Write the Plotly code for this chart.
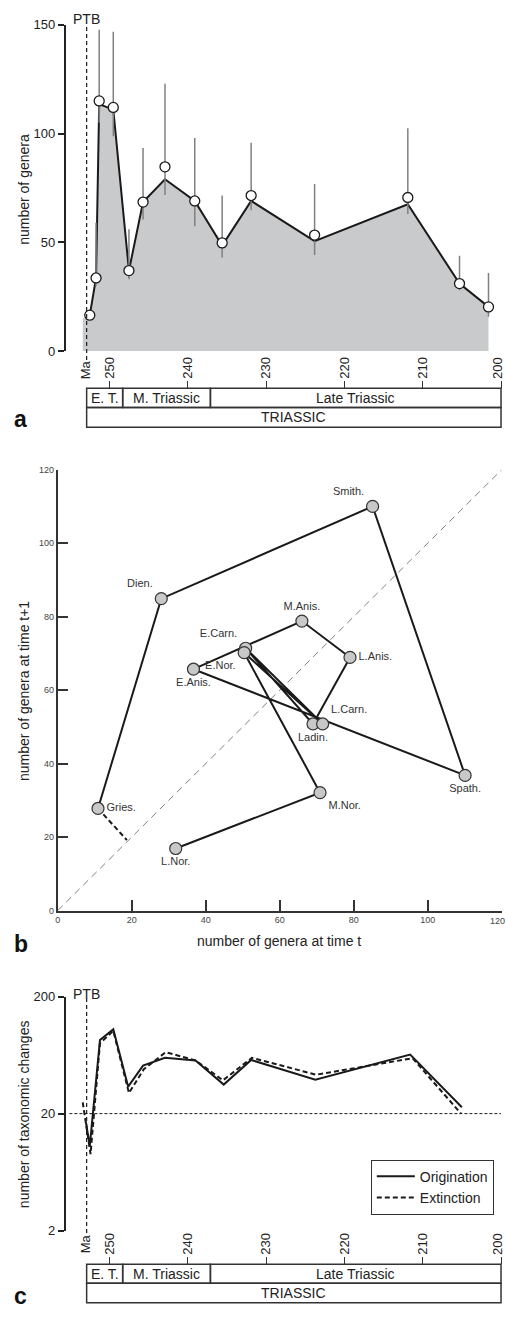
import math
import plotly.graph_objects as go

W, H = 506, 1319
FONT = "Liberation Sans, Arial, sans-serif"


def px(x):
    return x / W


def py(y):
    return 1 - y / H


# ---------------- DATA ----------------
# Panel a: genus richness through the Triassic
a_line_ma = [252.5, 251.7, 251.3, 249.5, 247.5, 245.7, 242.9, 239.1, 235.6, 231.9, 223.8, 211.9, 205.3, 201.6]
a_line_n = [16.5, 33.6, 113.5, 111, 37, 68.5, 79, 69, 48.5, 69, 50.5, 67.5, 31, 20.3]
a_fill_start_ma = 253.4
a_fill_start_n = 15
a_pt_ma = [252.5, 251.7, 251.3, 249.5, 247.5, 245.7, 242.9, 239.1, 235.6, 231.9, 223.8, 211.9, 205.3, 201.6]
a_pt_n = [16.5, 33.6, 115, 112, 37, 68.5, 84.7, 69, 49.7, 71.5, 53.3, 70.6, 31, 20.3]
a_hi = [16.5, 59, 147.7, 146.8, 56, 93.3, 122.9, 97.9, 71.5, 95.8, 76.8, 102.4, 43.8, 35.9]
a_lo = [16.5, 30, 105, 98.8, 33, 60.5, 71.8, 57.4, 43, 64.7, 44.2, 63, 28, 15.8]

# Time scale
time_ticks = [250, 240, 230, 220, 210, 200]
time_tick_text = ["250", "240", "230", "220", "210", "200"]
PTB_MA = 252.9
MA_LABEL_AT = 253.05
epochs = ["E. T.", "M. Triassic", "Late Triassic"]
epoch_bounds = [252.9, 248.3, 237.1, 200.0]
period_name = "TRIASSIC"

# Panel b: phase plot (genera at t vs t+1)
b_stage = ["Gries.", "Dien.", "Smith.", "Spath.", "E.Anis.", "M.Anis.", "L.Anis.",
           "Ladin.", "E.Carn.", "L.Carn.", "E.Nor.", "M.Nor.", "L.Nor."]
b_nt = [10.9, 28.0, 85.1, 110.1, 36.7, 66.0, 79.0, 69.0, 50.8, 71.6, 50.4, 70.9, 31.9]
b_nt1 = [27.8, 84.9, 110.0, 36.8, 65.7, 78.8, 68.9, 50.8, 71.4, 50.8, 70.2, 32.1, 16.9]
b_pre_x = [18.7]
b_pre_y = [19.2]
b_ticks = [0, 20, 40, 60, 80, 100, 120]

# Panel c: origination / extinction
c_orig_ma = [253.0, 252.5, 251.2, 249.5, 247.6, 245.7, 242.9, 239.0, 235.4, 231.9, 223.7, 211.6, 205.0]
c_orig = [17, 10.6, 85, 105, 34, 51.5, 60, 57, 35.4, 57.5, 39, 64, 22.7]
c_ext_ma = [253.4, 252.4, 251.2, 249.5, 247.5, 245.6, 242.8, 239.0, 235.5, 231.8, 223.6, 211.3, 205.1]
c_ext = [25, 9, 80, 102, 30, 48, 67, 57, 38.5, 60, 43, 59.5, 20]
c_ref_ma = [255.1, 200.0]
c_ref_val = [20, 20]
c_ticks = [2, 20, 200]

# ---------------- FIGURE ----------------
fig = go.Figure()

# Panel a
fig.add_trace(go.Scatter(
    x=[a_fill_start_ma] + a_line_ma, y=[a_fill_start_n] + a_line_n,
    mode="lines", fill="tozeroy", fillcolor="#c9cacc", line=dict(width=0),
    xaxis="x", yaxis="y", showlegend=False, hoverinfo="skip"))
fig.add_trace(go.Scatter(
    x=a_line_ma, y=a_line_n, mode="lines", line=dict(color="#1a1a1a", width=2),
    xaxis="x", yaxis="y", showlegend=False))
fig.add_trace(go.Scatter(
    x=a_pt_ma, y=a_pt_n, mode="markers",
    marker=dict(size=10, color="white", line=dict(color="#1a1a1a", width=1.3)),
    error_y=dict(type="data", symmetric=False,
                 array=[h - n for h, n in zip(a_hi, a_pt_n)],
                 arrayminus=[n - l for n, l in zip(a_pt_n, a_lo)],
                 color="#808080", thickness=1.5, width=0),
    xaxis="x", yaxis="y", showlegend=False))

# Panel b
fig.add_trace(go.Scatter(
    x=[b_ticks[0], b_ticks[-1]], y=[b_ticks[0], b_ticks[-1]], mode="lines",
    line=dict(color="#808080", width=1, dash="7px,5px"),
    xaxis="x2", yaxis="y2", showlegend=False))
fig.add_trace(go.Scatter(
    x=[b_nt[0]] + b_pre_x, y=[b_nt1[0]] + b_pre_y, mode="lines",
    line=dict(color="#1a1a1a", width=2, dash="5px,3px"),
    xaxis="x2", yaxis="y2", showlegend=False))
b_textpos = ["middle right", "top left", "top left", "bottom center", "bottom center",
             "top center", "middle right", "bottom center", "top left", "top right",
             "bottom left", "bottom right", "bottom center"]
fig.add_trace(go.Scatter(
    x=b_nt, y=b_nt1, mode="lines+markers+text", text=b_stage, textposition=b_textpos,
    textfont=dict(size=11, color="#333"),
    line=dict(color="#1a1a1a", width=2),
    marker=dict(size=12, color="#c8c8c8", line=dict(color="#333", width=1.2)),
    cliponaxis=False,
    xaxis="x2", yaxis="y2", showlegend=False))

# Panel c
fig.add_trace(go.Scatter(
    x=c_ref_ma, y=c_ref_val, mode="lines",
    line=dict(color="#1a1a1a", width=1, dash="3px,2px"),
    xaxis="x3", yaxis="y3", showlegend=False))
fig.add_trace(go.Scatter(
    x=c_orig_ma, y=c_orig, mode="lines", name="Origination",
    line=dict(color="#1a1a1a", width=2),
    xaxis="x3", yaxis="y3"))
fig.add_trace(go.Scatter(
    x=c_ext_ma, y=c_ext, mode="lines", name="Extinction",
    line=dict(color="#1a1a1a", width=2, dash="5px,3px"),
    xaxis="x3", yaxis="y3"))

# ---------------- AXES ----------------
x_left_ma = 250 + (107 - 63) / 7.88
x_right_ma = 250 - (505 - 107) / 7.88
time_axis = dict(
    domain=[px(63), px(505)], range=[x_left_ma, x_right_ma], anchor="free", side="top",
    ticks="outside", ticklen=7, tickwidth=1.2, tickcolor="#333", tickangle=-90,
    tickvals=time_ticks, ticktext=time_tick_text[:-1] + [""],
    tickfont=dict(size=13, color="#222"),
    showline=False, showgrid=False, zeroline=False)

fig.update_layout(
    xaxis=dict(time_axis, position=py(385.7)),
    yaxis=dict(domain=[py(348), py(18)], range=[0, 150], anchor="x",
               ticks="outside", ticklen=6, tickwidth=1.5, tickcolor="#222",
               showline=True, linewidth=1.5, linecolor="#222",
               tickvals=[0, 50, 100, 150], tickfont=dict(size=13, color="#222"),
               showgrid=False, zeroline=False),
    xaxis2=dict(domain=[px(55), px(501.7)], range=[0, 120], anchor="y2",
                ticks="inside", ticklen=11, tickwidth=1.5, tickcolor="#333",
                showline=True, linewidth=1.5, linecolor="#333",
                tickvals=b_ticks, ticktext=[str(t) for t in b_ticks[:-1]] + [""],
                tickfont=dict(size=9, color="#444"),
                showgrid=False, zeroline=False),
    yaxis2=dict(domain=[py(914), py(468)], range=[0, 120], anchor="x2",
                ticks="inside", ticklen=11, tickwidth=1.5, tickcolor="#333",
                showline=True, linewidth=1.5, linecolor="#333",
                tickvals=b_ticks, tickfont=dict(size=9, color="#444"),
                ticklabeloverflow="allow",
                showgrid=False, zeroline=False),
    xaxis3=dict(time_axis, position=py(1271.7)),
    yaxis3=dict(type="log", domain=[py(1237.7), py(1001)],
                range=[math.log10(c_ticks[0]), math.log10(c_ticks[-1])], anchor="x3",
                ticks="outside", ticklen=6, tickwidth=1.5, tickcolor="#222",
                showline=True, linewidth=1.5, linecolor="#222",
                tickvals=c_ticks, ticktext=[str(t) for t in c_ticks],
                tickfont=dict(size=13, color="#222"),
                showgrid=False, zeroline=False),
)

# ---------------- SHAPES & ANNOTATIONS ----------------
shapes = []
annotations = []


def ann(**kw):
    kw.setdefault("showarrow", False)
    kw.setdefault("xanchor", "center")
    kw.setdefault("yanchor", "middle")
    annotations.append(kw)


def timescale(xref, top, mid, bot):
    for i, name in enumerate(epochs):
        shapes.append(dict(type="rect", xref=xref, yref="paper",
                           x0=epoch_bounds[i], x1=epoch_bounds[i + 1], y0=py(mid), y1=py(top),
                           line=dict(color="#333", width=1.5)))
        ann(x=(epoch_bounds[i] + epoch_bounds[i + 1]) / 2, y=py((top + mid) / 2),
            xref=xref, yref="paper", text=name, font=dict(size=14, color="#222"))
    shapes.append(dict(type="rect", xref=xref, yref="paper",
                       x0=epoch_bounds[0], x1=epoch_bounds[-1], y0=py(bot), y1=py(mid),
                       line=dict(color="#333", width=1.5)))
    ann(x=(epoch_bounds[0] + epoch_bounds[-1]) / 2, y=py((mid + bot) / 2),
        xref=xref, yref="paper", text=period_name, font=dict(size=14, color="#222"))
    # last time tick label, kept inside the page edge
    ann(x=time_ticks[-1], y=py(top - 20), xref=xref, yref="paper", text=time_tick_text[-1],
        textangle=-90, xanchor="right", xshift=5, borderpad=0,
        font=dict(size=13, color="#222"))


timescale("x", 385.7, 405, 425)
timescale("x3", 1271.7, 1291, 1310.7)

# last tick label of panel b x axis, kept inside the page edge
ann(x=b_ticks[-1], y=py(925), xref="x2", yref="paper", text=str(b_ticks[-1]),
    xanchor="right", xshift=4, borderpad=0, font=dict(size=9, color="#444"))

# PTB lines and labels
shapes.append(dict(type="line", xref="x", yref="paper", x0=PTB_MA, x1=PTB_MA,
                   y0=py(357), y1=py(20), line=dict(color="#1a1a1a", width=1.2, dash="4px,3px")))
shapes.append(dict(type="line", xref="x3", yref="paper", x0=PTB_MA, x1=PTB_MA,
                   y0=py(1240), y1=py(1003), line=dict(color="#1a1a1a", width=1.2, dash="4px,3px")))
for xr, yy in (("x", 12), ("x3", 998)):
    ann(x=PTB_MA, y=py(yy), xref=xr, yref="paper", text="PTB", font=dict(size=14, color="#222"))
for xr, yy in (("x", 367), ("x3", 1251)):
    ann(x=MA_LABEL_AT, y=py(yy), xref=xr, yref="paper", text="Ma",
        textangle=-90, font=dict(size=13, color="#222"))

# Axis titles
ann(x=px(21), y=py(184), xref="paper", yref="paper", text="number of genera",
    textangle=-90, font=dict(size=14, color="#222"))
ann(x=px(21), y=py(692), xref="paper", yref="paper", text="number of genera at time t+1",
    textangle=-90, font=dict(size=14, color="#222"))
ann(x=px(278), y=py(945), xref="paper", yref="paper", text="number of genera at time t",
    font=dict(size=14, color="#222"))
ann(x=px(21), y=py(1120), xref="paper", yref="paper", text="number of taxonomic changes",
    textangle=-90, font=dict(size=14, color="#222"))
# Panel letters
for letter, yy in (("a", 417), ("b", 948)):
    ann(x=px(18), y=py(yy), xref="paper", yref="paper",
        text="<b>%s</b>" % letter, font=dict(size=23, color="#111"))
ann(x=px(18), y=0, xref="paper", yref="paper", yanchor="bottom",
    text="<b>c</b>", font=dict(size=23, color="#111"))

fig.update_layout(
    width=W, height=H, margin=dict(l=0, r=0, t=0, b=0),
    paper_bgcolor="white", plot_bgcolor="rgba(0,0,0,0)",
    font=dict(family=FONT, size=13, color="#222"),
    shapes=shapes, annotations=annotations,
    showlegend=True,
    legend=dict(x=px(370), y=py(1166), xanchor="left", yanchor="top",
                bordercolor="#333", borderwidth=1, bgcolor="white",
                font=dict(size=14, color="#222"), tracegroupgap=0,
                itemwidth=38),
)

fig.write_html("out.html")
